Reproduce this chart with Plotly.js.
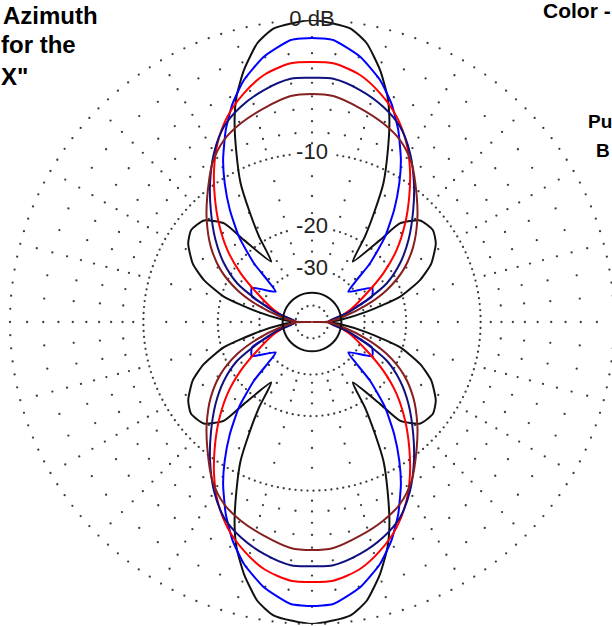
<!DOCTYPE html>
<html><head><meta charset="utf-8">
<script src="https://cdn.plot.ly/plotly-3.0.1.min.js"></script>
<style>
html,body{margin:0;padding:0;overflow:hidden;background:#fff;width:612px;height:626px}
#chart{width:620px;height:626px}
</style>
</head><body><div id="chart"></div>
<script>
// One quadrant of each pattern (angle in degrees, 0 = right, 90 = up), gain in dB.
// The patterns are symmetric about both axes.
const blackAng = [0, 4, 10.7, 16, 21.3, 26.1, 32.4, 37.2, 43.2, 48.3, 50.3, 56, 58.2, 60.6, 62.8, 65.9, 69, 71.5, 74.9, 78.9, 82.6, 90];
const blackDb  = [-50, -40.8, -29.0, -20.5, -16.4, -14.1, -12.4, -11.8, -12.2, -14.2, -17.9, -24.4, -18.9, -14.7, -11.3, -8.4, -5.75, -4.1, -2.5, -1.05, -0.34, 0];

const blueAng = [0, 10.7, 18.9, 23, 29.5, 39.9, 43.2, 45.3, 49.4, 53.8, 57.8, 61.3, 65.8, 70, 74.3, 79.7, 85.7, 90];
const blueDb  = [-50, -40.5, -31.9, -26.3, -25.3, -31.8, -27.4, -22.3, -17.0, -13.3, -10.5, -8.4, -6.2, -4.5, -3.15, -1.95, -1.13, -1.05];

const redAng = [0, 5.4, 17.5, 27.7, 34.3, 40.4, 46.7, 52.2, 57.2, 62.1, 67.6, 73.4, 79, 85.3, 90];
const redDb  = [-50, -45.4, -34.8, -27.2, -21.5, -17.15, -13.7, -11.05, -8.8, -6.9, -5.27, -4.04, -3.13, -2.6, -2.57];

const navyAng = [0, 14.1, 21.9, 27.4, 33.7, 40.4, 47.9, 53.7, 59.8, 65.7, 71.7, 78.3, 85, 90];
const navyDb  = [-50, -36.6, -28.0, -21.9, -18.0, -14.9, -11.9, -9.64, -7.5, -5.9, -4.92, -4.17, -3.65, -3.65];

const maroonAng = [0, 1, 9.6, 17.3, 23.2, 29.7, 36.6, 44.1, 50.1, 57.9, 64.2, 70.3, 77.3, 84.6, 90];
const maroonDb  = [-99, -51.5, -38.7, -28.5, -22.5, -18.1, -15.0, -12.4, -10.55, -8.19, -6.89, -6.15, -5.51, -4.9, -4.82];

// small black circle near the centre
const innerAng = [0, 15, 30, 45, 60, 75, 90];
const innerDb  = [-40, -40, -40, -40, -40, -40, -40];

// scale labels
const scaleDb     = [0, -10, -20, -30];
const scaleLabels = ['0 dB', '-10', '-20', '-30'];

// grid levels (dB)
const ringMajorDb = [-10, -20, -30, -50];
const ringMinorDb = [-2, -4, -6, -8];
const spokeDb     = [-1, -3, -5, -7, -9, -12.5, -15, -17.5, -22.5, -25, -27.5];

// ARRL log scale: radius factor 0.89 per 2 dB
function toR(db) { return Math.pow(0.89, -db / 2); }

function fullPattern(ang, db) {
  const th = [], r = [];
  const push = (t, d) => { th.push(t); r.push(toR(d)); };
  for (let i = 0; i < ang.length; i++) push(ang[i], db[i]);
  for (let i = ang.length - 2; i >= 0; i--) push(180 - ang[i], db[i]);
  for (let i = 1; i < ang.length; i++) push(180 + ang[i], db[i]);
  for (let i = ang.length - 2; i >= 0; i--) push(360 - ang[i], db[i]);
  return {th, r};
}

// label boxes (relative units, radius 1 = 302px) so grid dots stay clear of the labels
const PX = 1 / 302;
const labelHalfW = [27, 21, 21, 21];
function blocked(t, d) {
  const rr = toR(d);
  const x = rr * Math.cos(t * Math.PI / 180), y = rr * Math.sin(t * Math.PI / 180);
  for (let i = 0; i < scaleDb.length; i++) {
    const ly = toR(scaleDb[i]);
    if (Math.abs(x) < labelHalfW[i] * PX && Math.abs(y - ly) < 10 * PX) return true;
  }
  return false;
}

function gridDots() {
  const th = [], r = [];
  const add = (t, d) => { if (!blocked(t, d)) { th.push(t); r.push(toR(d)); } };
  for (let a = 0; a < 360; a += 2.5) add(a, 0);
  for (const d of ringMinorDb) for (let a = 0; a < 360; a += 5) add(a, d);
  for (const d of ringMajorDb) {
    const n = Math.max(16, Math.round(2 * Math.PI * toR(d) * 302 / 6));
    for (let k = 0; k < n; k++) add(k * 360 / n, d);
  }
  for (let a = 0; a < 360; a += 15) for (const d of spokeDb) add(a, d);
  return {th, r};
}

const traces = [];
const g = gridDots();
traces.push({type: 'scatterpolar', mode: 'markers', theta: g.th, r: g.r,
  marker: {size: 2.3, color: '#3c3c3c'}, hoverinfo: 'skip'});

const series = [
  [blackAng, blackDb, '#111111', 0.55],
  [blueAng, blueDb, '#0000ff', 0.5],
  [redAng, redDb, '#ff0000', 0.8],
  [navyAng, navyDb, '#10107f', 0.8],
  [maroonAng, maroonDb, '#862020', 0.8],
  [innerAng, innerDb, '#111111', 1]
];
for (const [a, d, c, s] of series) {
  const p = fullPattern(a, d);
  traces.push({type: 'scatterpolar', mode: 'lines', theta: p.th, r: p.r,
    line: {color: c, width: 2, shape: 'spline', smoothing: s}, hoverinfo: 'skip'});
}

traces.push({type: 'scatterpolar', mode: 'text', theta: scaleDb.map(() => 90),
  r: scaleDb.map(toR), text: scaleLabels, textposition: 'middle center',
  textfont: {family: 'Liberation Sans, Arial, sans-serif', size: 22, color: '#222'},
  hoverinfo: 'skip'});

const W = 620, H = 626;
const fontB = 'Liberation Sans, Arial, sans-serif';
function ann(text, px, py, size) {
  return {text: '<b>' + text + '</b>', x: px / W, y: 1 - py / H, xref: 'paper', yref: 'paper',
    xanchor: 'left', yanchor: 'middle', showarrow: false,
    font: {family: fontB, size: size, color: '#000'}};
}

const layout = {
  width: W, height: H,
  margin: {l: 0, r: 0, t: 0, b: 0},
  paper_bgcolor: '#fff',
  showlegend: false,
  polar: {
    domain: {x: [10 / W, 614 / W], y: [2 / H, 606 / H]},
    bgcolor: 'rgba(0,0,0,0)',
    radialaxis: {visible: false, range: [0, 1]},
    angularaxis: {visible: false, rotation: 0, direction: 'counterclockwise'}
  },
  annotations: [
    ann('Azimuth', 1, 15, 24),
    ann('for the', -1, 45, 24),
    ann('X"', -1, 77, 24),
    ann('Color -', 541, 11, 21),
    ann('Pu', 586, 122, 19),
    ann('B', 594, 150, 19)
  ]
};

Plotly.newPlot('chart', traces, layout, {staticPlot: true, displayModeBar: false});
</script>
</body></html>
